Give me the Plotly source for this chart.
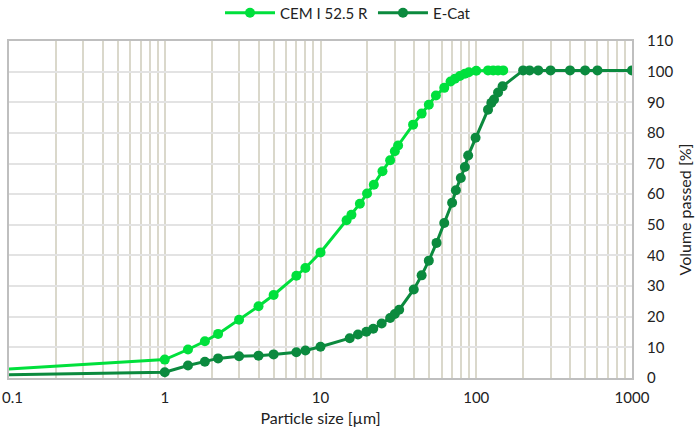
import plotly.graph_objects as go

cem_x = [0.08, 1, 1.41, 1.81, 2.2, 3, 4, 5, 7, 8, 10, 14.7, 15.8, 17.9, 19.9, 22, 25, 28, 30, 31.5,
         39.3, 44.6, 49.6, 55.1, 62.3, 68.4, 73, 78.5, 84.5, 89.6, 100, 119, 128.5, 138, 149]
cem_y = [2.6, 6.0, 9.3, 12.0, 14.4, 19.0, 23.4, 27.1, 33.4, 35.9, 41.0, 51.5, 53.3, 56.9, 60.2, 63.1,
         67.5, 71.1, 74.0, 75.9, 82.7, 86.3, 89.2, 92.2, 94.7, 96.8, 97.7, 98.6, 99.3, 99.8, 100.3,
         100.4, 100.4, 100.4, 100.4]

ecat_x = [0.08, 1, 1.41, 1.81, 2.2, 3, 4, 5, 7, 8, 10, 15.4, 17.4, 19.7, 21.8, 24.7, 28, 30, 32,
          39.7, 44.6, 49.6, 55.6, 62.3, 70, 74, 79.6, 84.5, 88.7, 99, 119, 125, 130, 138, 147.6,
          200, 220, 250, 300, 400, 500, 600, 1000]
ecat_y = [1.0, 1.9, 4.1, 5.3, 6.4, 7.1, 7.3, 7.7, 8.4, 9.0, 10.2, 13.0, 14.2, 15.1, 16.1, 17.8, 19.6,
          20.9, 22.3, 28.9, 33.5, 38.3, 44.1, 50.6, 57.2, 61.3, 65.3, 68.9, 72.6, 78.4, 87.6, 89.8,
          90.9, 93.2, 95.2, 100.4, 100.4, 100.4, 100.4, 100.4, 100.4, 100.4, 100.4]

x_ticks = [0.1, 1, 10, 100, 1000]
x_tick_text = ["0.1", "1", "10", "100", "1000"]
y_ticks = list(range(0, 111, 10))

minor_vals = [m * 10 ** e for e in range(-1, 3) for m in range(2, 10)]

CEM_COLOR = "#00E03C"
ECAT_COLOR = "#0B8A3E"

fig = go.Figure()
fig.add_trace(go.Scatter(x=cem_x, y=cem_y, name="CEM I 52.5 R", mode="lines+markers",
                         line=dict(color=CEM_COLOR, width=3),
                         marker=dict(color=CEM_COLOR, size=10)))
fig.add_trace(go.Scatter(x=ecat_x, y=ecat_y, name="E-Cat", mode="lines+markers",
                         line=dict(color=ECAT_COLOR, width=3),
                         marker=dict(color=ECAT_COLOR, size=10)))

fig.update_layout(
    width=696, height=434,
    margin=dict(l=9, r=64, t=41, b=56, autoexpand=False),
    paper_bgcolor="white", plot_bgcolor="white",
    font=dict(family="Lato, Open Sans, sans-serif", size=15, color="#222222"),
    legend=dict(orientation="h", x=0.5, xref="container", xanchor="center",
                y=1 - 13 / 434, yref="container", yanchor="middle",
                font=dict(size=15), itemwidth=50, bgcolor="rgba(0,0,0,0)"),
    showlegend=True,
)

# first tick label (0.1) placed flush with the left edge, like the reference
tick_labels = [""] + x_tick_text[1:]
fig.add_annotation(x=-1, xref="x", y=0, yref="paper", text=x_tick_text[0],
                   showarrow=False, xanchor="left", yanchor="top",
                   xshift=-9, yshift=-8, font=dict(size=15, color="#222222"))

fig.update_xaxes(type="log", range=[-1, 3], tickvals=x_ticks, ticktext=tick_labels,
                 automargin=False, ticklabeloverflow="allow", ticklabelstandoff=5,
                 showgrid=True, gridcolor="#DAD8CB", gridwidth=1.5,
                 minor=dict(tickvals=minor_vals, showgrid=True, gridcolor="#DAD8CB", gridwidth=1.5),
                 showline=True, linecolor="#BFBFBF", linewidth=2, mirror=True,
                 ticks="", zeroline=False,
                 title=dict(text="Particle size [µm]", font=dict(size=16), standoff=8))
fig.update_yaxes(range=[0, 110], tickvals=y_ticks, side="right", automargin=False,
                 ticklabeloverflow="allow",
                 showgrid=True, gridcolor="#E3E3E3", gridwidth=1.5,
                 showline=True, linecolor="#BFBFBF", linewidth=2, mirror=True,
                 ticks="", zeroline=False, ticklabelstandoff=10,
                 title=dict(text="Volume passed [%]", font=dict(size=16), standoff=7))

fig.write_html("out.html")
